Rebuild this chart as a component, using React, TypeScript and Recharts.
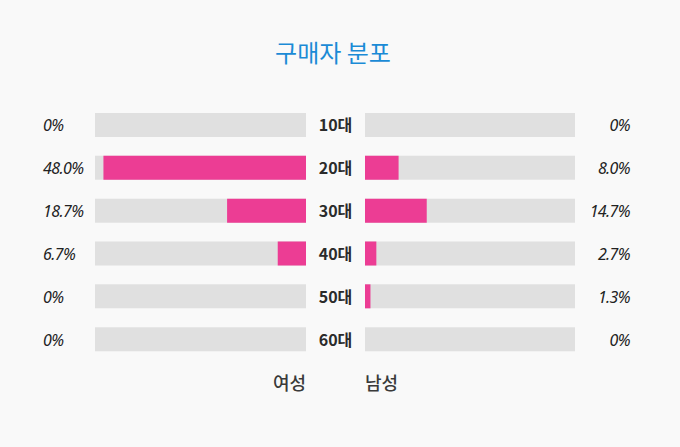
import React from "react";
import { BarChart, Bar, XAxis, YAxis } from "recharts";

const ages = ["10대", "20대", "30대", "40대", "50대", "60대"];
const female = [0, 48.0, 18.7, 6.7, 0, 0];
const male = [0, 8.0, 14.7, 2.7, 1.3, 0];
const AXIS_MAX = 50;

const data = ages.map((age, i) => ({
  age,
  female: female[i],
  male: male[i],
  track: AXIS_MAX,
}));

const PINK = "#ec3d94";
const TRACK = "#e0e0e0";
const W = 680;
const H = 447;
const MARGIN_V = { top: 104, bottom: 86 };
const LEFT_MARGIN = { ...MARGIN_V, left: 43, right: 374 };
const RIGHT_MARGIN = { ...MARGIN_V, left: 306, right: 50 };

const fmt = (v: number) => (v === 0 ? "0%" : `${v.toFixed(1)}%`);

const valueStyle = {
  fontFamily: "'Noto Sans', sans-serif",
  fontStyle: "italic",
  fontSize: 16,
  fill: "#222",
  letterSpacing: -0.6,
};

function FemaleTick({ x, y, payload }: any) {
  const row = data.find((d) => d.age === payload.value);
  return (
    <text x={x - 52} y={y} dy={6} textAnchor="start" style={valueStyle}>
      {fmt(row ? row.female : 0)}
    </text>
  );
}

function MaleTick({ x, y, payload }: any) {
  const row = data.find((d) => d.age === payload.value);
  return (
    <text x={x + 55} y={y} dy={6} textAnchor="end" style={valueStyle}>
      {fmt(row ? row.male : 0)}
    </text>
  );
}

function AgeTick({ x, y, payload }: any) {
  return (
    <text
      x={x - 29.5}
      y={y}
      dy={6}
      textAnchor="middle"
      style={{
        fontFamily: "'Noto Sans CJK KR', sans-serif",
        fontWeight: 700,
        fontSize: 16,
        fill: "#2b2b2b",
      }}
    >
      {payload.value}
    </text>
  );
}

const layer = { position: "absolute" as const, left: 0, top: 0 };
const hiddenCat = { type: "category" as const, dataKey: "age", hide: true };

export default function App() {
  return (
    <div
      style={{
        position: "fixed",
        inset: 0,
        width: W,
        height: H,
        background: "#f9f9f9",
        fontFamily: "'Noto Sans CJK KR', sans-serif",
      }}
    >
      <div
        style={{
          ...layer,
          width: "100%",
          top: 33,
          textAlign: "center",
          paddingRight: 14,
          boxSizing: "border-box",
          fontSize: 24,
          color: "#1b8bd6",
          lineHeight: "38px",
        }}
      >
        구매자 분포
      </div>

      {/* grey tracks */}
      <div style={layer}>
        <BarChart width={W} height={H} data={data} layout="vertical" margin={{ ...LEFT_MARGIN, left: 95 }}>
          <XAxis type="number" domain={[0, AXIS_MAX]} reversed hide />
          <YAxis {...hiddenCat} />
          <Bar dataKey="track" fill={TRACK} barSize={24} isAnimationActive={false} />
        </BarChart>
      </div>
      <div style={layer}>
        <BarChart width={W} height={H} data={data} layout="vertical" margin={{ ...RIGHT_MARGIN, left: 365, right: 105 }}>
          <XAxis type="number" domain={[0, AXIS_MAX]} hide />
          <YAxis {...hiddenCat} />
          <Bar dataKey="track" fill={TRACK} barSize={24} isAnimationActive={false} />
        </BarChart>
      </div>

      {/* 여성 */}
      <div style={layer}>
        <BarChart width={W} height={H} data={data} layout="vertical" margin={LEFT_MARGIN}>
          <XAxis type="number" domain={[0, AXIS_MAX]} reversed hide />
          <YAxis
            type="category"
            dataKey="age"
            width={52}
            axisLine={false}
            tickLine={false}
            tickSize={0}
            tickMargin={0}
            tick={<FemaleTick />}
          />
          <Bar dataKey="female" fill={PINK} barSize={24} isAnimationActive={false} />
        </BarChart>
      </div>

      {/* 남성 */}
      <div style={layer}>
        <BarChart width={W} height={H} data={data} layout="vertical" margin={RIGHT_MARGIN}>
          <XAxis type="number" domain={[0, AXIS_MAX]} hide />
          <YAxis
            yAxisId={0}
            type="category"
            dataKey="age"
            width={59}
            axisLine={false}
            tickLine={false}
            tickSize={0}
            tickMargin={0}
            tick={<AgeTick />}
          />
          <YAxis
            yAxisId="right"
            orientation="right"
            type="category"
            dataKey="age"
            width={55}
            axisLine={false}
            tickLine={false}
            tickSize={0}
            tickMargin={0}
            tick={<MaleTick />}
          />
          <Bar dataKey="male" fill={PINK} barSize={24} isAnimationActive={false} />
        </BarChart>
      </div>

      <div
        style={{
          ...layer,
          top: 369,
          left: 206,
          width: 100,
          textAlign: "right",
          fontSize: 18,
          fontWeight: 500,
          color: "#3a3a3a",
          lineHeight: "26px",
        }}
      >
        여성
      </div>
      <div
        style={{
          ...layer,
          top: 369,
          left: 365,
          width: 100,
          textAlign: "left",
          fontSize: 18,
          fontWeight: 500,
          color: "#3a3a3a",
          lineHeight: "26px",
        }}
      >
        남성
      </div>
    </div>
  );
}
